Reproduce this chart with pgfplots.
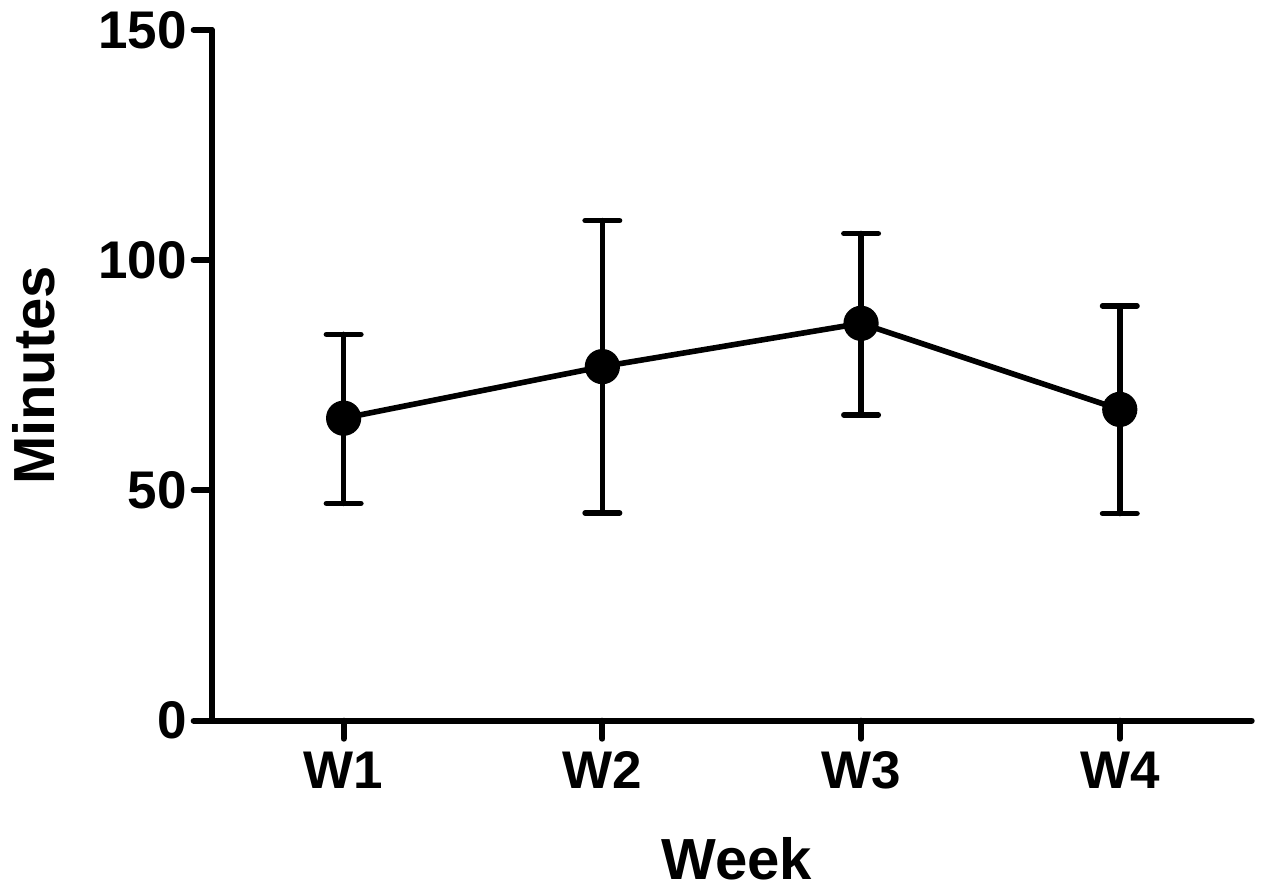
\documentclass[border=0pt]{standalone}
\usepackage{pgfplots}
\pgfplotsset{compat=1.18}
\usepackage{fontspec}
\setmainfont{Liberation Sans}
\begin{document}
\begin{tikzpicture}
\useasboundingbox (-105.85pt,-84.65pt) rectangle (527.65pt,360.35pt);
\begin{axis}[
  scale only axis,
  width=520pt, height=345.35pt,
  xmin=0.49, xmax=4.51,
  ymin=0, ymax=150,
  axis lines=left,
  axis line style={-, line width=3pt, line cap=round},
  tick align=outside,
  major tick length=9pt,
  tick style={line width=3pt, black, line cap=round},
  xtick={1,2,3,4},
  xticklabels={W1,W2,W3,W4},
  ytick={0,50,100,150},
  /pgf/number format/assume math mode=true,
  ticklabel style={font=\fontsize{26.5}{30}\selectfont\bfseries},
  xticklabel style={yshift=-3pt},
  label style={font=\fontsize{29}{33}\selectfont\bfseries},
  xlabel={Week},
  ylabel={Minutes},
  xlabel style={at={(axis description cs:0.505,-0.2306)}, anchor=base},
  ylabel style={at={(axis description cs:-0.1507,0.5)}, anchor=base, rotate=0},
  clip=false,
]
\addplot[black, line width=2.8pt, mark=*, mark size=7.4pt,
  mark options={solid, fill=black, line width=2.8pt},
  error bars/.cd, y dir=both, y explicit,
  error bar style={line width=2.8pt, line cap=round},
  error mark options={rotate=90, mark size=8.6pt, line width=2.8pt, line cap=round}]
  table[x=x, y=y, y error plus=ep, y error minus=em] {
x y ep em
1 65.7 18.2 18.5
2 76.9 31.7 31.8
3 86.3 19.5 19.9
4 67.6 22.5 22.6
};
\end{axis}
\end{tikzpicture}
\end{document}
